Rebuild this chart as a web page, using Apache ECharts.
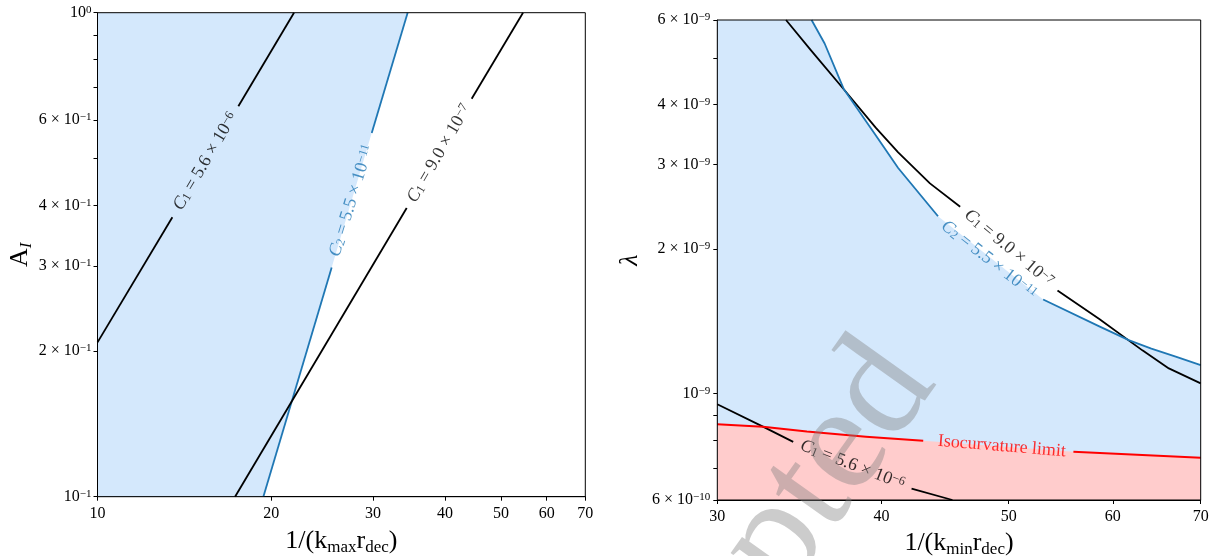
<!DOCTYPE html>
<html><head><meta charset="utf-8">
<script src="https://cdn.jsdelivr.net/npm/echarts@6/dist/echarts.min.js"></script>
<style>html,body{margin:0;padding:0;background:#fff}#c{width:1218px;height:556px}</style>
</head><body><div id="c"></div>
<script>
// ---------------- Left panel: x = 1/(k_max r_dec), y = A_I ----------------
const leftXMin = 10, leftXMax = 70, leftYMin = 0.1, leftYMax = 1;
const leftXTicks = [10, 20, 30, 40, 50, 60, 70];
const leftXTickLabels = ['10', '20', '30', '40', '50', '60', '70'];
const leftYTicks = [0.1, 0.2, 0.3, 0.4, 0.5, 0.6, 0.7, 0.8, 0.9, 1];
const leftYLabelValues = [0.1, 0.2, 0.3, 0.4, 0.6, 1];
const leftYTickLabels = ['10^−1', '2 × 10^−1', '3 × 10^−1', '4 × 10^−1', '6 × 10^−1', '10^0'];
// contour lines (null = gap where the inline label sits)
const leftC1High = [[10, 0.2084], [13.48, 0.378], null, [17.54, 0.641], [21.9, 1.0]];   // C1 = 5.6e-6
const leftC2 = [[19.38, 0.1], [25.45, 0.2975], null, [29.86, 0.564], [34.46, 1.0]];     // C2 = 5.5e-11
const leftC1Low = [[17.31, 0.1], [34.33, 0.395], null, [44.49, 0.664], [54.6, 1.0]];    // C1 = 9.0e-7
const leftLabels = [
  { x: 15.38, y: 0.493, text: 'C_1 = 5.6 × 10^−6', color: '#000000', angle: 59.4 },
  { x: 27.56, y: 0.409, text: 'C_2 = 5.5 × 10^−11', color: '#1f77b4', angle: 72.9 },
  { x: 39.08, y: 0.512, text: 'C_1 = 9.0 × 10^−7', color: '#000000', angle: 59.8 }
];

// ---------------- Right panel: x = 1/(k_min r_dec), y = lambda ----------------
const rightXMin = 30, rightXMax = 70, rightYMin = 6e-10, rightYMax = 6e-9;
const rightXTicks = [30, 40, 50, 60, 70];
const rightXTickLabels = ['30', '40', '50', '60', '70'];
const rightYTicks = [6e-10, 7e-10, 8e-10, 9e-10, 1e-9, 2e-9, 3e-9, 4e-9, 5e-9, 6e-9];
const rightYLabelValues = [6e-10, 1e-9, 2e-9, 3e-9, 4e-9, 6e-9];
const rightYTickLabels = ['6 × 10^−10', '10^−9', '2 × 10^−9', '3 × 10^−9', '4 × 10^−9', '6 × 10^−9'];
const rightC1High = [[33.84, 6e-9], [35.33, 5.2e-9], [37.43, 4.31e-9], [39.6, 3.58e-9], [41.19, 3.18e-9],
  [43.55, 2.74e-9], [45.92, 2.45e-9], null, [54.46, 1.64e-9], [58.6, 1.43e-9], [63.2, 1.23e-9],
  [66.2, 1.128e-9], [70, 1.05e-9]];                                                     // C1 = 9.0e-7
const rightC2 = [[35.39, 6e-9], [36.21, 5.36e-9], [37.44, 4.31e-9], [39.6, 3.45e-9], [41.19, 2.95e-9],
  [44.17, 2.34e-9], null, [53.11, 1.57e-9], [58.6, 1.38e-9], [61.77, 1.29e-9], [64.2, 1.24e-9],
  [67.0, 1.193e-9], [70, 1.146e-9]];                                                    // C2 = 5.5e-11
const rightC1Low = [[30, 9.5e-10], [32.5, 8.53e-10], [34.27, 7.93e-10], null, [42.17, 6.34e-10], [45.3, 6.0e-10]]; // C1 = 5.6e-6
const rightIso = [[30, 8.63e-10], [32.5, 8.53e-10], [35.1, 8.33e-10], [38.93, 8.13e-10], [43.04, 7.97e-10],
  null, [56.0, 7.56e-10], [70, 7.35e-10]];                                              // isocurvature limit
const rightLabels = [
  { x: 50.0, y: 2.01e-9, text: 'C_1 = 9.0 × 10^−7', color: '#000000', angle: -40 },
  { x: 48.3, y: 1.90e-9, text: 'C_2 = 5.5 × 10^−11', color: '#1f77b4', angle: -38 },
  { x: 38.02, y: 7.1e-10, text: 'C_1 = 5.6 × 10^−6', color: '#000000', angle: -21.2 },
  { x: 49.4, y: 7.76e-10, text: 'Isocurvature limit', color: '#ff0000', angle: -4.7 }
];

// ---------------- styling / helpers ----------------
const FONT = 'Liberation Serif';
const BLUE = '#1f77b4', BLUE_FILL = '#d4e8fc', RED = '#ff0000', RED_FILL = '#ffcccc';

function tickText(label) {
  const i = label.indexOf('^');
  if (i < 0) return '{m|' + label + '}';
  return '{m|' + label.slice(0, i) + '}{s|' + label.slice(i + 1) + '}';
}
function lookup(vals, labels) {
  return function (v) {
    for (let i = 0; i < vals.length; i++) {
      if (Math.abs(v - vals[i]) <= 1e-6 * Math.abs(vals[i])) return tickText(labels[i]);
    }
    return '';
  };
}
const tickRich = {
  m: { fontFamily: FONT, fontSize: 16, lineHeight: 16, verticalAlign: 'bottom', color: '#000' },
  s: { fontFamily: FONT, fontSize: 11, lineHeight: 11, verticalAlign: 'top', padding: [0, 0, 6, 0], color: '#000' }
};
const nameRich = {
  n: { fontFamily: FONT, fontSize: 26, lineHeight: 26, verticalAlign: 'top', color: '#000' },
  ni: { fontFamily: FONT, fontSize: 26, lineHeight: 26, verticalAlign: 'top', color: '#000', fontStyle: 'italic' },
  sub: { fontFamily: FONT, fontSize: 17, lineHeight: 17, verticalAlign: 'top', padding: [11, 0, 0, 0], color: '#000' },
  subi: { fontFamily: FONT, fontSize: 17, lineHeight: 17, verticalAlign: 'top', padding: [11, 0, 0, 0], color: '#000', fontStyle: 'italic' }
};

function logAxis(gridIndex, position, min, max, ticks, labelVals, labels, name, nameGap, margin) {
  return {
    type: 'log', logBase: 10, gridIndex: gridIndex, position: position, min: min, max: max,
    axisLine: { show: true, onZero: false, lineStyle: { color: '#000', width: 1 } },
    axisTick: { show: true, inside: false, length: 4, lineStyle: { color: '#000', width: 1 }, customValues: ticks },
    minorTick: { show: false },
    splitLine: { show: false },
    axisLabel: { show: true, customValues: labelVals, formatter: lookup(labelVals, labels), margin: margin, rich: tickRich, hideOverlap: false },
    name: name, nameLocation: 'middle', nameGap: nameGap,
    nameTextStyle: { rich: nameRich }
  };
}

function segments(pts) {
  const out = [[]];
  pts.forEach(p => { if (p === null) out.push([]); else out[out.length - 1].push(p); });
  return out;
}
function lineSeries(pts, axisIdx, color, width, z) {
  return segments(pts).map(seg => ({
    type: 'line', xAxisIndex: axisIdx, yAxisIndex: axisIdx, data: seg,
    symbol: 'none', smooth: false, clip: true, silent: true, z: z,
    lineStyle: { color: color, width: width, join: 'round', cap: 'butt' }
  }));
}
function areaSeries(pts, axisIdx, color, origin, z) {
  return {
    type: 'line', xAxisIndex: axisIdx, yAxisIndex: axisIdx, data: pts,
    symbol: 'none', smooth: false, clip: true, silent: true, z: z,
    lineStyle: { width: 0, opacity: 0 },
    areaStyle: { color: color, opacity: 1, origin: origin }
  };
}
function contourText(s) {
  const m = s.match(/^C_(\d) = (.*)\^(.*)$/);
  if (!m) return '{t|' + s + '}';
  return '{it|C}{sub|' + m[1] + '}{t| = ' + m[2] + '}{sup|' + m[3] + '}';
}
function labelSeries(lbls, axisIdx) {
  return lbls.map(l => ({
    type: 'scatter', xAxisIndex: axisIdx, yAxisIndex: axisIdx, data: [[l.x, l.y]],
    symbolSize: 1, itemStyle: { color: 'rgba(0,0,0,0)' }, silent: true, z: 6, clip: false,
    label: {
      show: true, position: 'inside', rotate: l.angle, align: 'center', verticalAlign: 'middle',
      formatter: contourText(l.text),
      rich: {
        t: { fontFamily: FONT, fontSize: 18, lineHeight: 18, verticalAlign: 'bottom', color: l.color },
        it: { fontFamily: FONT, fontSize: 18, lineHeight: 18, verticalAlign: 'bottom', color: l.color, fontStyle: 'italic' },
        sub: { fontFamily: FONT, fontSize: 12.5, lineHeight: 12, verticalAlign: 'bottom', padding: [7, 0, 0, 0], color: l.color },
        sup: { fontFamily: FONT, fontSize: 12.5, lineHeight: 12, verticalAlign: 'top', padding: [0, 0, 8, 0], color: l.color }
      }
    }
  }));
}

const G0 = { left: 97.5, top: 12.7, width: 487.8, height: 484 };
const G1 = { left: 717.3, top: 20, width: 483.4, height: 480 };

const option = {
  animation: false,
  backgroundColor: '#ffffff',
  grid: [
    Object.assign({ show: false, containLabel: false, outerBoundsMode: 'none' }, G0),
    Object.assign({ show: false, containLabel: false, outerBoundsMode: 'none' }, G1)
  ],
  xAxis: [
    logAxis(0, 'bottom', leftXMin, leftXMax, leftXTicks, leftXTicks, leftXTickLabels,
      '{n|1/(k}{sub|max}{n|r}{sub|dec}{n|)}', 31, 9),
    logAxis(1, 'bottom', rightXMin, rightXMax, rightXTicks, rightXTicks, rightXTickLabels,
      '{n|1/(k}{sub|min}{n|r}{sub|dec}{n|)}', 28, 9)
  ],
  yAxis: [
    logAxis(0, 'left', leftYMin, leftYMax, leftYTicks, leftYLabelValues, leftYTickLabels,
      '{n|A}{subi|I}', 64, 6),
    logAxis(1, 'left', rightYMin, rightYMax, rightYTicks, rightYLabelValues, rightYTickLabels,
      '{ni|λ}', 74, 7)
  ],
  graphic: [
    { type: 'rect', silent: true, z: 50, shape: { x: G0.left, y: G0.top, width: G0.width, height: G0.height },
      style: { fill: null, stroke: '#000', lineWidth: 1 } },
    { type: 'rect', silent: true, z: 50, shape: { x: G1.left, y: G1.top, width: G1.width, height: G1.height },
      style: { fill: null, stroke: '#000', lineWidth: 1 } },
    { type: 'text', silent: true, z: 100, x: 905, y: 360, rotation: 54.5 * Math.PI / 180,
      style: { text: 'Accepted', fontSize: 152, fontFamily: FONT, fill: 'rgba(128,128,128,0.4)',
        align: 'right', verticalAlign: 'middle' } }
  ],
  series: [].concat(
    // left panel: allowed region left of the C2 line
    [areaSeries([[leftXMin, leftYMin]].concat(leftC2.filter(p => p !== null)), 0, BLUE_FILL, leftYMax, 1)],
    lineSeries(leftC1High, 0, '#000', 1.8, 3),
    lineSeries(leftC2, 0, BLUE, 1.8, 3),
    lineSeries(leftC1Low, 0, '#000', 1.8, 3),
    labelSeries(leftLabels, 0),
    // right panel
    [areaSeries([[rightXMin, rightYMax]].concat(rightC2.filter(p => p !== null)), 1, BLUE_FILL, rightYMin, 1)],
    [areaSeries(rightIso.filter(p => p !== null), 1, RED_FILL, rightYMin, 2)],
    lineSeries(rightC1High, 1, '#000', 1.8, 3),
    lineSeries(rightC2, 1, BLUE, 1.8, 3),
    lineSeries(rightC1Low, 1, '#000', 1.8, 3),
    lineSeries(rightIso, 1, RED, 2, 4),
    labelSeries(rightLabels, 1)
  )
};

const chart = echarts.init(document.getElementById('c'), null, { renderer: 'canvas' });
chart.setOption(option);
</script>
</body></html>
